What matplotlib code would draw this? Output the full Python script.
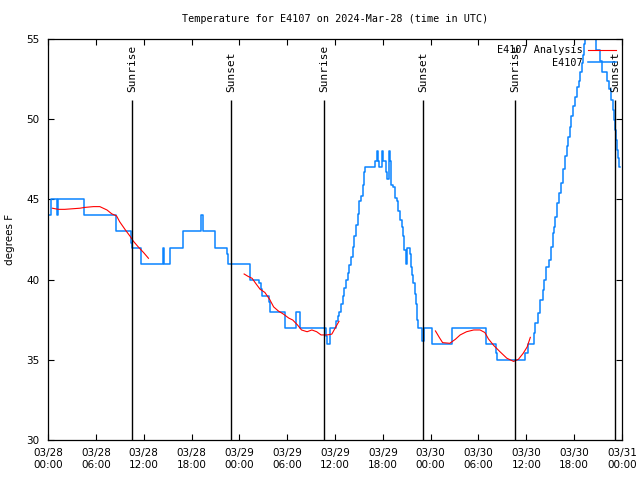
#!/usr/bin/env python3
"""
Station temperature for E4107 with sunrise / sunset markers (gnuplot look).
"""

import numpy as np
import matplotlib
matplotlib.use('Agg')
import matplotlib.pyplot as plt

# ---- data (hours since 2024-03-28 00:00 UTC) ----
obs_hours = [
    0.0, 0.38, 1.09, 1.3, 4.55, 8.53, 10.35, 10.54, 11.63, 14.4, 14.6, 15.3,
    16.9, 19.2, 19.45, 20.95, 22.4, 22.6, 25.4, 26.5, 26.7, 26.9, 27.7, 27.85,
    29.7, 31.1, 31.6, 34.9, 35.0, 35.4, 36.14, 36.43, 36.55, 36.76, 36.98,
    37.18, 37.39, 37.6, 37.8, 38.02, 38.23, 38.43, 38.64, 38.86, 39.06, 39.27,
    39.48, 39.68, 39.77, 41.03, 41.24, 41.37, 41.57, 41.87, 41.9, 42.0, 42.4,
    42.57, 42.79, 42.9, 43.07, 43.32, 43.54, 43.83, 43.95, 44.17, 44.38, 44.5,
    44.67, 44.88, 45.0, 45.08, 45.42, 45.55, 45.71, 45.84, 46.05, 46.17, 46.34,
    46.46, 46.89, 47.2, 48.14, 50.65, 54.96, 56.2, 56.37, 59.89, 60.27, 60.9,
    61.1, 61.5, 61.73, 62.07, 62.27, 62.48, 62.9, 63.07, 63.32, 63.49, 63.6,
    63.9, 64.16, 64.37, 64.58, 64.87, 65.08, 65.28, 65.5, 65.62, 65.91, 66.12,
    66.33, 66.62, 66.75, 66.96, 67.16, 67.29, 67.42, 67.75, 68.72, 69.26,
    69.47, 70.1, 70.43, 70.64, 70.85, 71.02, 71.14, 71.23, 71.36, 71.56,
    71.68, 71.77,
]
obs_temp = [
    44, 45, 44, 45, 44, 43, 42.3, 42, 41, 42, 41, 42,
    43, 44, 43, 42, 41.6, 41, 40, 39.8, 39.4, 39.0, 38.6, 38,
    37, 38, 37, 36.5, 36, 37, 37.4, 37.7, 38.0, 38.5, 39.0,
    39.5, 40.0, 40.4, 40.9, 41.4, 42.05, 42.7, 43.4, 44.1, 44.9, 45.2,
    45.9, 46.7, 47.0, 47.4, 48.0, 47.4, 47.0, 47.4, 48.0, 47.4, 46.7,
    46.3, 48.0, 47.4, 45.9, 45.8, 45.07, 44.9, 44.3, 43.7, 43.3, 42.7,
    41.85, 41.0, 41.6, 42.0, 41.6, 40.8, 40.3, 39.8, 39.1, 38.5, 37.5,
    37.0, 36.2, 37, 36, 37, 36, 35.4, 35, 35.4, 36.0, 36.65,
    37.3, 37.9, 38.7, 39.35, 40.0, 40.8, 41.2, 42.05, 42.9, 43.3, 43.9,
    44.76, 45.4, 46.0, 46.9, 47.7, 48.3, 48.9, 49.5, 50.2, 50.8, 51.4,
    52.0, 52.4, 52.96, 53.5, 54.0, 54.7, 55.6, 56.0, 54.3, 53.6,
    52.96, 52.4, 51.9, 51.2, 50.6, 49.95, 49.3, 48.7, 48.1, 47.6,
    47.0, 47.0,
]

# analysis curve, three separate pieces split by NaN
ana_hours = [
    0.55, 1.3, 2.1, 4.0, 4.6, 5.7, 6.5, 7.4, 8.0, 8.6, 9.0, 9.7, 10.3, 10.7,
    11.3, 12.0, 12.6, np.nan,
    24.6, 25.1, 25.6, 26.0, 26.6, 27.2, 27.8, 28.3, 28.9, 29.5, 30.2, 30.7,
    31.3, 31.8, 32.5, 33.1, 33.7, 34.25, 35.0, 35.6, 36.0, 36.5, np.nan,
    48.6, 49.1, 49.5, 50.4, 51.1, 51.7, 52.5, 53.4, 54.2, 54.8, 55.25, 55.9,
    56.7, 57.55, 58.4, 59.0, 59.6, 60.1, 60.5,
]
ana_temp = [
    44.45, 44.38, 44.38, 44.45, 44.5, 44.55, 44.55, 44.34, 44.1, 43.97, 43.6,
    43.1, 42.7, 42.4, 42.05, 41.68, 41.33, np.nan,
    40.35, 40.2, 40.08, 39.8, 39.4, 39.2, 38.77, 38.3, 38.04, 37.86, 37.6,
    37.48, 37.17, 36.86, 36.75, 36.86, 36.75, 36.55, 36.55, 36.6, 36.96,
    37.4, np.nan,
    36.8, 36.38, 36.07, 36.03, 36.28, 36.55, 36.75, 36.86, 36.86, 36.7, 36.3,
    35.9, 35.5, 35.1, 34.9, 35.03, 35.4, 35.8, 36.4,
]

sun_hours = [10.58, 22.96, 34.67, 47.09, 58.64, 71.18]
sun_labels = ['Sunrise', 'Sunset', 'Sunrise', 'Sunset', 'Sunrise', 'Sunset']

tick_hours = list(range(0, 73, 6))
tick_labels = ['03/28\n00:00', '03/28\n06:00', '03/28\n12:00', '03/28\n18:00',
               '03/29\n00:00', '03/29\n06:00', '03/29\n12:00', '03/29\n18:00',
               '03/30\n00:00', '03/30\n06:00', '03/30\n12:00', '03/30\n18:00',
               '03/31\n00:00']
y_ticks = [30, 35, 40, 45, 50, 55]

# ---- figure ----
fig = plt.figure(figsize=(6.4, 4.8), dpi=100)
ax = fig.add_axes([48 / 640, 40 / 480, 574 / 640, 401 / 480])

mono = 'DejaVu Sans Mono'
sans = 'DejaVu Sans'

ax.plot(obs_hours, obs_temp, drawstyle='steps-post', color='#0a84ff',
        linewidth=1.1, label='E4107', zorder=2)
ax.plot(ana_hours, ana_temp, color='red', linewidth=0.8,
        label='E4107 Analysis', zorder=3)

# sunrise / sunset markers
for h, lab in zip(sun_hours, sun_labels):
    ax.vlines(h, 30, 51.2, color='black', linewidth=1.0, zorder=4)
    ax.text(h, 51.7, lab, rotation=90, ha='center', va='bottom',
            fontsize=8, family=mono)

ax.set_xlim(0, 72)
ax.set_ylim(30, 55)
ax.set_xticks(tick_hours)
ax.set_xticklabels(tick_labels, fontsize=7.5, family=sans)
ax.set_yticks(y_ticks)
ax.set_yticklabels([str(v) for v in y_ticks], fontsize=7.5, family=sans)
ax.tick_params(direction='in', length=4, width=0.8, top=True, right=True)
ax.tick_params(axis='x', pad=6)
ax.tick_params(axis='y', pad=6)
for s in ax.spines.values():
    s.set_linewidth(0.9)

ax.set_ylabel('degrees F', fontsize=7.5, family=sans, labelpad=8)
ax.set_title('Temperature for E4107 on 2024-Mar-28 (time in UTC)',
             fontsize=7.3, family=mono, pad=12)

# legend: red first, blue second, text left of the line sample
handles, labels = ax.get_legend_handles_labels()
leg = ax.legend(handles[::-1], labels[::-1], loc='upper right',
                frameon=False, markerfirst=False, handlelength=2.8,
                handletextpad=0.5, labelspacing=0.25, borderpad=0.2,
                borderaxespad=0.4, prop={'family': mono, 'size': 7.3})

fig.savefig('out.png', dpi=100, facecolor='white')
